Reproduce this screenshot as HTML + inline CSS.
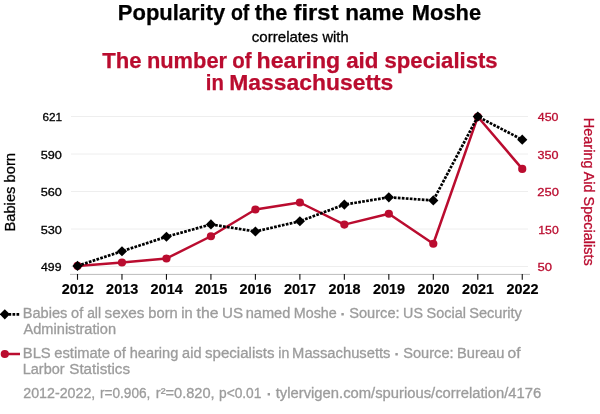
<!DOCTYPE html>
<html><head><meta charset="utf-8">
<style>
html,body{margin:0;padding:0;background:#fff;}
body{width:600px;height:414px;overflow:hidden;}
svg{display:block;font-family:"Liberation Sans",sans-serif;}
</style></head><body>
<svg width="600" height="414" viewBox="0 0 600 414">
<rect width="600" height="414" fill="#fff"/>
<g stroke="#eeeeee" stroke-width="1">
<line x1="71" x2="528" y1="116.5" y2="116.5"/>
<line x1="71" x2="528" y1="154" y2="154"/>
<line x1="71" x2="528" y1="191.5" y2="191.5"/>
<line x1="71" x2="528" y1="229" y2="229"/>
<line x1="71" x2="528" y1="266.5" y2="266.5"/>
</g>
<line x1="70" x2="530" y1="274.4" y2="274.4" stroke="#bbb" stroke-width="1"/>
<g stroke="#111" stroke-width="1.1">
<line x1="77.50" x2="77.50" y1="274" y2="279.8"/>
<line x1="121.97" x2="121.97" y1="274" y2="279.8"/>
<line x1="166.45" x2="166.45" y1="274" y2="279.8"/>
<line x1="210.93" x2="210.93" y1="274" y2="279.8"/>
<line x1="255.40" x2="255.40" y1="274" y2="279.8"/>
<line x1="299.88" x2="299.88" y1="274" y2="279.8"/>
<line x1="344.35" x2="344.35" y1="274" y2="279.8"/>
<line x1="388.82" x2="388.82" y1="274" y2="279.8"/>
<line x1="433.30" x2="433.30" y1="274" y2="279.8"/>
<line x1="477.78" x2="477.78" y1="274" y2="279.8"/>
<line x1="522.25" x2="522.25" y1="274" y2="279.8"/>
</g>
<text y="19.8" font-size="22.2" font-weight="bold" fill="#000" stroke="#000" stroke-width="0.25"><tspan x="117.85" textLength="107.4" lengthAdjust="spacingAndGlyphs">Popularity</tspan> <tspan x="230.9" textLength="18.45" lengthAdjust="spacingAndGlyphs">of</tspan> <tspan x="254.75" textLength="32.65" lengthAdjust="spacingAndGlyphs">the</tspan> <tspan x="293.5" textLength="45.1" lengthAdjust="spacingAndGlyphs">first</tspan> <tspan x="345.35" textLength="58.8" lengthAdjust="spacingAndGlyphs">name</tspan> <tspan x="411.85" textLength="69.25" lengthAdjust="spacingAndGlyphs">Moshe</tspan></text>
<text y="41.5" font-size="14.6" font-weight="normal" fill="#000" stroke="#000" stroke-width="0.3"><tspan x="251.75" textLength="66.25" lengthAdjust="spacingAndGlyphs">correlates</tspan> <tspan x="322.5" textLength="26.05" lengthAdjust="spacingAndGlyphs">with</tspan></text>
<text y="67.9" font-size="22.4" font-weight="bold" fill="#ba0c2f" stroke="#ba0c2f" stroke-width="0.25"><tspan x="102.25" textLength="39.35" lengthAdjust="spacingAndGlyphs">The</tspan> <tspan x="146.9" textLength="80.2" lengthAdjust="spacingAndGlyphs">number</tspan> <tspan x="232.35" textLength="19.3" lengthAdjust="spacingAndGlyphs">of</tspan> <tspan x="256.6" textLength="83.65" lengthAdjust="spacingAndGlyphs">hearing</tspan> <tspan x="346.15" textLength="32.35" lengthAdjust="spacingAndGlyphs">aid</tspan> <tspan x="384.55" textLength="113.1" lengthAdjust="spacingAndGlyphs">specialists</tspan></text>
<text y="89.8" font-size="22.4" font-weight="bold" fill="#ba0c2f" stroke="#ba0c2f" stroke-width="0.25"><tspan x="205.85" textLength="18.05" lengthAdjust="spacingAndGlyphs">in</tspan> <tspan x="229.3" textLength="164.05" lengthAdjust="spacingAndGlyphs">Massachusetts</tspan></text>
<text y="318" font-size="14" font-weight="normal" fill="#9c9c9c" stroke="#9c9c9c" stroke-width="0.3"><tspan x="22.75" textLength="44.6" lengthAdjust="spacingAndGlyphs">Babies</tspan> <tspan x="71.05" textLength="12.15" lengthAdjust="spacingAndGlyphs">of</tspan> <tspan x="87.15" textLength="13.85" lengthAdjust="spacingAndGlyphs">all</tspan> <tspan x="104.5" textLength="40.0" lengthAdjust="spacingAndGlyphs">sexes</tspan> <tspan x="148.3" textLength="29.4" lengthAdjust="spacingAndGlyphs">born</tspan> <tspan x="181.3" textLength="11.4" lengthAdjust="spacingAndGlyphs">in</tspan> <tspan x="196.55" textLength="21.9" lengthAdjust="spacingAndGlyphs">the</tspan> <tspan x="222.1" textLength="21.0" lengthAdjust="spacingAndGlyphs">US</tspan> <tspan x="245.7" textLength="44.6" lengthAdjust="spacingAndGlyphs">named</tspan> <tspan x="293.75" textLength="43.0" lengthAdjust="spacingAndGlyphs">Moshe</tspan> <tspan x="340.15" stroke-width="1">·</tspan> <tspan x="349.25" textLength="50.35" lengthAdjust="spacingAndGlyphs">Source:</tspan> <tspan x="403.1" textLength="19.8" lengthAdjust="spacingAndGlyphs">US</tspan> <tspan x="426.6" textLength="39.4" lengthAdjust="spacingAndGlyphs">Social</tspan> <tspan x="469.25" textLength="52.65" lengthAdjust="spacingAndGlyphs">Security</tspan></text>
<text y="334" font-size="14" font-weight="normal" fill="#9c9c9c" stroke="#9c9c9c" stroke-width="0.3"><tspan x="23.5" textLength="92.5" lengthAdjust="spacingAndGlyphs">Administration</tspan></text>
<text y="358.2" font-size="14" font-weight="normal" fill="#9c9c9c" stroke="#9c9c9c" stroke-width="0.3"><tspan x="22.75" textLength="28.0" lengthAdjust="spacingAndGlyphs">BLS</tspan> <tspan x="54.25" textLength="55.65" lengthAdjust="spacingAndGlyphs">estimate</tspan> <tspan x="113.6" textLength="12.4" lengthAdjust="spacingAndGlyphs">of</tspan> <tspan x="129.7" textLength="48.6" lengthAdjust="spacingAndGlyphs">hearing</tspan> <tspan x="182.1" textLength="19.35" lengthAdjust="spacingAndGlyphs">aid</tspan> <tspan x="205.0" textLength="69.5" lengthAdjust="spacingAndGlyphs">specialists</tspan> <tspan x="278.3" textLength="11.0" lengthAdjust="spacingAndGlyphs">in</tspan> <tspan x="292.1" textLength="98.4" lengthAdjust="spacingAndGlyphs">Massachusetts</tspan> <tspan x="394.25" stroke-width="1">·</tspan> <tspan x="403.25" textLength="50.35" lengthAdjust="spacingAndGlyphs">Source:</tspan> <tspan x="457.1" textLength="47.25" lengthAdjust="spacingAndGlyphs">Bureau</tspan> <tspan x="507.6" textLength="13.05" lengthAdjust="spacingAndGlyphs">of</tspan></text>
<text y="374.2" font-size="14" font-weight="normal" fill="#9c9c9c" stroke="#9c9c9c" stroke-width="0.3"><tspan x="22.75" textLength="41.85" lengthAdjust="spacingAndGlyphs">Larbor</tspan> <tspan x="69.25" textLength="60.75" lengthAdjust="spacingAndGlyphs">Statistics</tspan></text>
<text y="397.5" font-size="14" font-weight="normal" fill="#9c9c9c" stroke="#9c9c9c" stroke-width="0.3"><tspan x="23.25" textLength="72.0" lengthAdjust="spacingAndGlyphs">2012-2022,</tspan> <tspan x="100.0" textLength="50.4" lengthAdjust="spacingAndGlyphs">r=0.906,</tspan> <tspan x="155.85" textLength="58.8" lengthAdjust="spacingAndGlyphs">r²=0.820,</tspan> <tspan x="219.0" textLength="42.4" lengthAdjust="spacingAndGlyphs">p&lt;0.01</tspan> <tspan x="266.6" stroke-width="1">·</tspan> <tspan x="275.75" textLength="265.5" lengthAdjust="spacingAndGlyphs">tylervigen.com/spurious/correlation/4176</tspan></text>
<text y="120.7" font-size="11.8" font-weight="normal" fill="#000" stroke="#000" stroke-width="0.3"><tspan x="42.5" textLength="19.65" lengthAdjust="spacingAndGlyphs">621</tspan></text>
<text y="158.6" font-size="11.8" font-weight="normal" fill="#000" stroke="#000" stroke-width="0.3"><tspan x="40.65" textLength="21.2" lengthAdjust="spacingAndGlyphs">590</tspan></text>
<text y="195.8" font-size="11.8" font-weight="normal" fill="#000" stroke="#000" stroke-width="0.3"><tspan x="40.65" textLength="21.2" lengthAdjust="spacingAndGlyphs">560</tspan></text>
<text y="233.6" font-size="11.8" font-weight="normal" fill="#000" stroke="#000" stroke-width="0.3"><tspan x="40.65" textLength="21.2" lengthAdjust="spacingAndGlyphs">530</tspan></text>
<text y="271.0" font-size="11.8" font-weight="normal" fill="#000" stroke="#000" stroke-width="0.3"><tspan x="41.05" textLength="20.45" lengthAdjust="spacingAndGlyphs">499</tspan></text>
<text y="120.7" font-size="11.8" font-weight="normal" fill="#ba0c2f" stroke="#ba0c2f" stroke-width="0.3"><tspan x="537.75" textLength="20.75" lengthAdjust="spacingAndGlyphs">450</tspan></text>
<text y="158.6" font-size="11.8" font-weight="normal" fill="#ba0c2f" stroke="#ba0c2f" stroke-width="0.3"><tspan x="537.5" textLength="21.0" lengthAdjust="spacingAndGlyphs">350</tspan></text>
<text y="195.8" font-size="11.8" font-weight="normal" fill="#ba0c2f" stroke="#ba0c2f" stroke-width="0.3"><tspan x="537.25" textLength="21.6" lengthAdjust="spacingAndGlyphs">250</tspan></text>
<text y="233.6" font-size="11.8" font-weight="normal" fill="#ba0c2f" stroke="#ba0c2f" stroke-width="0.3"><tspan x="538.3" textLength="20.4" lengthAdjust="spacingAndGlyphs">150</tspan></text>
<text y="271.0" font-size="11.8" font-weight="normal" fill="#ba0c2f" stroke="#ba0c2f" stroke-width="0.3"><tspan x="537.5" textLength="14.55" lengthAdjust="spacingAndGlyphs">50</tspan></text>
<g font-size="14" font-weight="bold" text-anchor="middle" fill="#000" stroke="#000" stroke-width="0.2">
<text x="77.70" y="294.4" textLength="32.1" lengthAdjust="spacingAndGlyphs">2012</text>
<text x="122.17" y="294.4" textLength="32.1" lengthAdjust="spacingAndGlyphs">2013</text>
<text x="166.65" y="294.4" textLength="32.1" lengthAdjust="spacingAndGlyphs">2014</text>
<text x="211.12" y="294.4" textLength="32.1" lengthAdjust="spacingAndGlyphs">2015</text>
<text x="255.60" y="294.4" textLength="32.1" lengthAdjust="spacingAndGlyphs">2016</text>
<text x="300.07" y="294.4" textLength="32.1" lengthAdjust="spacingAndGlyphs">2017</text>
<text x="344.55" y="294.4" textLength="32.1" lengthAdjust="spacingAndGlyphs">2018</text>
<text x="389.02" y="294.4" textLength="32.1" lengthAdjust="spacingAndGlyphs">2019</text>
<text x="433.50" y="294.4" textLength="32.1" lengthAdjust="spacingAndGlyphs">2020</text>
<text x="477.98" y="294.4" textLength="32.1" lengthAdjust="spacingAndGlyphs">2021</text>
<text x="522.45" y="294.4" textLength="32.1" lengthAdjust="spacingAndGlyphs">2022</text>
</g>
<text transform="translate(14.7,192.3) rotate(-90)" text-anchor="middle" font-size="15" fill="#000" stroke="#000" stroke-width="0.3" textLength="78.6" lengthAdjust="spacingAndGlyphs">Babies born</text>
<text transform="translate(584.2,191.75) rotate(90)" text-anchor="middle" font-size="14.5" fill="#ba0c2f" stroke="#ba0c2f" stroke-width="0.3" textLength="147.8" lengthAdjust="spacingAndGlyphs">Hearing Aid Specialists</text>
<polyline fill="none" stroke="#ba0c2f" stroke-width="2.5" stroke-linejoin="round" points="77.50,265.9 121.97,262.5 166.45,258.5 210.93,236.25 255.40,209.5 299.88,202.5 344.35,224.6 388.82,213.75 433.30,243.75 477.78,116.8 522.25,168.9"/>
<g fill="#ba0c2f"><circle cx="77.50" cy="265.9" r="4.1"/><circle cx="121.97" cy="262.5" r="4.1"/><circle cx="166.45" cy="258.5" r="4.1"/><circle cx="210.93" cy="236.25" r="4.1"/><circle cx="255.40" cy="209.5" r="4.1"/><circle cx="299.88" cy="202.5" r="4.1"/><circle cx="344.35" cy="224.6" r="4.1"/><circle cx="388.82" cy="213.75" r="4.1"/><circle cx="433.30" cy="243.75" r="4.1"/><circle cx="477.78" cy="116.8" r="4.1"/><circle cx="522.25" cy="168.9" r="4.1"/></g>
<polyline fill="none" stroke="#000" stroke-width="2.7" stroke-dasharray="2.7,1.3" points="77.50,265.9 121.97,251.25 166.45,236.75 210.93,224.4 255.40,231.5 299.88,221.25 344.35,204.6 388.82,197.3 433.30,200.4 477.78,116.6 522.25,139.7"/>
<defs><path id="d" d="M0,-5.1L5.1,0L0,5.1L-5.1,0Z"/></defs>
<g fill="#000"><use href="#d" x="77.50" y="265.9"/><use href="#d" x="121.97" y="251.25"/><use href="#d" x="166.45" y="236.75"/><use href="#d" x="210.93" y="224.4"/><use href="#d" x="255.40" y="231.5"/><use href="#d" x="299.88" y="221.25"/><use href="#d" x="344.35" y="204.6"/><use href="#d" x="388.82" y="197.3"/><use href="#d" x="433.30" y="200.4"/><use href="#d" x="477.78" y="116.6"/><use href="#d" x="522.25" y="139.7"/></g>
<line x1="5" x2="20.3" y1="314.3" y2="314.3" stroke="#000" stroke-width="2.7" stroke-dasharray="2.7,1.3" stroke-dashoffset="0.5"/>
<use href="#d" x="4.8" y="314.3" fill="#000"/>
<line x1="5" x2="20" y1="354" y2="354" stroke="#ba0c2f" stroke-width="2.5"/>
<circle cx="4.8" cy="354" r="4.1" fill="#ba0c2f"/>
</svg>
</body></html>
